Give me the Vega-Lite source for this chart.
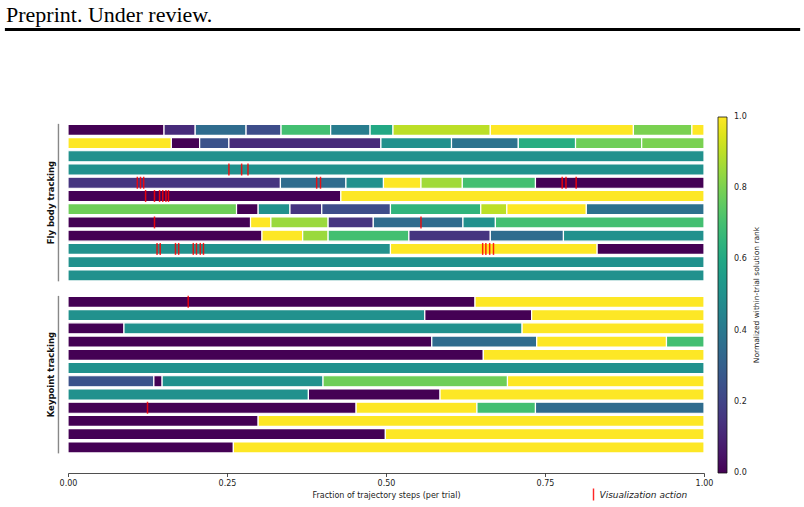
{
  "$schema": "https://vega.github.io/schema/vega-lite/v6.json",
  "width": 636,
  "height": 356,
  "autosize": {"type": "none"},
  "padding": {"left": 68, "top": 117, "right": 100, "bottom": 34},
  "background": "white",
  "config": {
    "view": {"stroke": null},
    "font": "DejaVu Sans",
    "axis": {"grid": false}
  },
  "title": {
    "text": "Preprint. Under review.",
    "anchor": "start",
    "frame": "group",
    "orient": "top",
    "offset": -15.5,
    "dx": -62,
    "font": "Liberation Serif",
    "fontSize": 22,
    "fontWeight": "normal",
    "color": "#000000",
    "baseline": "alphabetic"
  },
  "datasets": {
    "segments": [
      {"trial": "F1", "start": 0.000, "end": 0.151, "rank": 0.00},
      {"trial": "F1", "start": 0.151, "end": 0.200, "rank": 0.12},
      {"trial": "F1", "start": 0.200, "end": 0.280, "rank": 0.35},
      {"trial": "F1", "start": 0.280, "end": 0.335, "rank": 0.23},
      {"trial": "F1", "start": 0.335, "end": 0.413, "rank": 0.70},
      {"trial": "F1", "start": 0.413, "end": 0.475, "rank": 0.42},
      {"trial": "F1", "start": 0.475, "end": 0.511, "rank": 0.60},
      {"trial": "F1", "start": 0.511, "end": 0.664, "rank": 0.90},
      {"trial": "F1", "start": 0.664, "end": 0.889, "rank": 1.00},
      {"trial": "F1", "start": 0.889, "end": 0.981, "rank": 0.80},
      {"trial": "F1", "start": 0.981, "end": 1.000, "rank": 1.00},

      {"trial": "F2", "start": 0.000, "end": 0.1625, "rank": 1.00},
      {"trial": "F2", "start": 0.1625, "end": 0.207, "rank": 0.00},
      {"trial": "F2", "start": 0.207, "end": 0.253, "rank": 0.25},
      {"trial": "F2", "start": 0.253, "end": 0.492, "rank": 0.12},
      {"trial": "F2", "start": 0.492, "end": 0.603, "rank": 0.50},
      {"trial": "F2", "start": 0.603, "end": 0.708, "rank": 0.38},
      {"trial": "F2", "start": 0.708, "end": 0.798, "rank": 0.62},
      {"trial": "F2", "start": 0.798, "end": 0.902, "rank": 0.78},
      {"trial": "F2", "start": 0.902, "end": 1.000, "rank": 0.80},

      {"trial": "F3", "start": 0.000, "end": 1.000, "rank": 0.50},
      {"trial": "F4", "start": 0.000, "end": 1.000, "rank": 0.50},

      {"trial": "F5", "start": 0.000, "end": 0.334, "rank": 0.15},
      {"trial": "F5", "start": 0.334, "end": 0.437, "rank": 0.35},
      {"trial": "F5", "start": 0.437, "end": 0.496, "rank": 0.50},
      {"trial": "F5", "start": 0.496, "end": 0.555, "rank": 1.00},
      {"trial": "F5", "start": 0.555, "end": 0.620, "rank": 0.86},
      {"trial": "F5", "start": 0.620, "end": 0.735, "rank": 0.70},
      {"trial": "F5", "start": 0.735, "end": 1.000, "rank": 0.00},

      {"trial": "F6", "start": 0.000, "end": 0.429, "rank": 0.00},
      {"trial": "F6", "start": 0.429, "end": 1.000, "rank": 1.00},

      {"trial": "F7", "start": 0.000, "end": 0.265, "rank": 0.78},
      {"trial": "F7", "start": 0.265, "end": 0.299, "rank": 0.00},
      {"trial": "F7", "start": 0.299, "end": 0.349, "rank": 0.50},
      {"trial": "F7", "start": 0.349, "end": 0.399, "rank": 0.15},
      {"trial": "F7", "start": 0.399, "end": 0.507, "rank": 0.23},
      {"trial": "F7", "start": 0.507, "end": 0.649, "rank": 0.65},
      {"trial": "F7", "start": 0.649, "end": 0.690, "rank": 0.90},
      {"trial": "F7", "start": 0.690, "end": 0.815, "rank": 1.00},
      {"trial": "F7", "start": 0.815, "end": 1.000, "rank": 0.37},

      {"trial": "F8", "start": 0.000, "end": 0.287, "rank": 0.00},
      {"trial": "F8", "start": 0.287, "end": 0.319, "rank": 1.00},
      {"trial": "F8", "start": 0.319, "end": 0.409, "rank": 0.85},
      {"trial": "F8", "start": 0.409, "end": 0.480, "rank": 0.15},
      {"trial": "F8", "start": 0.480, "end": 0.621, "rank": 0.35},
      {"trial": "F8", "start": 0.621, "end": 0.672, "rank": 0.50},
      {"trial": "F8", "start": 0.672, "end": 1.000, "rank": 0.70},

      {"trial": "F9", "start": 0.000, "end": 0.305, "rank": 0.00},
      {"trial": "F9", "start": 0.305, "end": 0.369, "rank": 1.00},
      {"trial": "F9", "start": 0.369, "end": 0.409, "rank": 0.85},
      {"trial": "F9", "start": 0.409, "end": 0.536, "rank": 0.70},
      {"trial": "F9", "start": 0.536, "end": 0.664, "rank": 0.15},
      {"trial": "F9", "start": 0.664, "end": 0.779, "rank": 0.35},
      {"trial": "F9", "start": 0.779, "end": 1.000, "rank": 0.50},

      {"trial": "F10", "start": 0.000, "end": 0.507, "rank": 0.50},
      {"trial": "F10", "start": 0.507, "end": 0.832, "rank": 1.00},
      {"trial": "F10", "start": 0.832, "end": 1.000, "rank": 0.00},

      {"trial": "F11", "start": 0.000, "end": 1.000, "rank": 0.50},
      {"trial": "F12", "start": 0.000, "end": 1.000, "rank": 0.50},

      {"trial": "K1", "start": 0.000, "end": 0.640, "rank": 0.00},
      {"trial": "K1", "start": 0.640, "end": 1.000, "rank": 1.00},

      {"trial": "K2", "start": 0.000, "end": 0.561, "rank": 0.50},
      {"trial": "K2", "start": 0.561, "end": 0.729, "rank": 0.00},
      {"trial": "K2", "start": 0.729, "end": 1.000, "rank": 1.00},

      {"trial": "K3", "start": 0.000, "end": 0.088, "rank": 0.00},
      {"trial": "K3", "start": 0.088, "end": 0.714, "rank": 0.50},
      {"trial": "K3", "start": 0.714, "end": 1.000, "rank": 1.00},

      {"trial": "K4", "start": 0.000, "end": 0.572, "rank": 0.00},
      {"trial": "K4", "start": 0.572, "end": 0.737, "rank": 0.35},
      {"trial": "K4", "start": 0.737, "end": 0.941, "rank": 1.00},
      {"trial": "K4", "start": 0.941, "end": 1.000, "rank": 0.70},

      {"trial": "K5", "start": 0.000, "end": 0.653, "rank": 0.00},
      {"trial": "K5", "start": 0.653, "end": 1.000, "rank": 1.00},

      {"trial": "K6", "start": 0.000, "end": 1.000, "rank": 0.50},

      {"trial": "K7", "start": 0.000, "end": 0.135, "rank": 0.25},
      {"trial": "K7", "start": 0.135, "end": 0.148, "rank": 0.00},
      {"trial": "K7", "start": 0.148, "end": 0.401, "rank": 0.50},
      {"trial": "K7", "start": 0.401, "end": 0.691, "rank": 0.78},
      {"trial": "K7", "start": 0.691, "end": 1.000, "rank": 1.00},

      {"trial": "K8", "start": 0.000, "end": 0.378, "rank": 0.50},
      {"trial": "K8", "start": 0.378, "end": 0.585, "rank": 0.00},
      {"trial": "K8", "start": 0.585, "end": 1.000, "rank": 1.00},

      {"trial": "K9", "start": 0.000, "end": 0.453, "rank": 0.00},
      {"trial": "K9", "start": 0.453, "end": 0.643, "rank": 1.00},
      {"trial": "K9", "start": 0.643, "end": 0.735, "rank": 0.70},
      {"trial": "K9", "start": 0.735, "end": 1.000, "rank": 0.35},

      {"trial": "K10", "start": 0.000, "end": 0.299, "rank": 0.00},
      {"trial": "K10", "start": 0.299, "end": 1.000, "rank": 1.00},

      {"trial": "K11", "start": 0.000, "end": 0.499, "rank": 0.00},
      {"trial": "K11", "start": 0.499, "end": 1.000, "rank": 1.00},

      {"trial": "K12", "start": 0.000, "end": 0.260, "rank": 0.00},
      {"trial": "K12", "start": 0.260, "end": 1.000, "rank": 1.00}
    ],
    "actions": [
      {"trial": "F4", "step": 0.253}, {"trial": "F4", "step": 0.273}, {"trial": "F4", "step": 0.283},
      {"trial": "F5", "step": 0.109}, {"trial": "F5", "step": 0.114}, {"trial": "F5", "step": 0.119},
      {"trial": "F5", "step": 0.391}, {"trial": "F5", "step": 0.397},
      {"trial": "F5", "step": 0.777}, {"trial": "F5", "step": 0.783}, {"trial": "F5", "step": 0.799},
      {"trial": "F6", "step": 0.122}, {"trial": "F6", "step": 0.136}, {"trial": "F6", "step": 0.144},
      {"trial": "F6", "step": 0.149}, {"trial": "F6", "step": 0.154}, {"trial": "F6", "step": 0.158},
      {"trial": "F8", "step": 0.136}, {"trial": "F8", "step": 0.555},
      {"trial": "F10", "step": 0.140}, {"trial": "F10", "step": 0.145}, {"trial": "F10", "step": 0.169},
      {"trial": "F10", "step": 0.174}, {"trial": "F10", "step": 0.197}, {"trial": "F10", "step": 0.202},
      {"trial": "F10", "step": 0.208}, {"trial": "F10", "step": 0.213},
      {"trial": "F10", "step": 0.652}, {"trial": "F10", "step": 0.657}, {"trial": "F10", "step": 0.663},
      {"trial": "F10", "step": 0.669},
      {"trial": "K1", "step": 0.189},
      {"trial": "K9", "step": 0.125}
    ]
  },
  "resolve": {"scale": {"y": "independent"}},
  "layer": [
    {
      "layer": [
        {
          "data": {"name": "segments"},
          "mark": {"type": "bar", "stroke": "white", "strokeWidth": 1.2, "height": {"band": 0.925}},
          "encoding": {
            "x": {
              "field": "start", "type": "quantitative",
              "title": "Fraction of trajectory steps (per trial)",
              "scale": {"domain": [0, 1], "nice": false, "zero": false},
              "axis": {
                "values": [0, 0.25, 0.5, 0.75, 1],
                "format": ".2f",
                "labelFlush": false,
                "tickSize": 3.5,
                "tickWidth": 0.8,
                "domainWidth": 0.8,
                "domainColor": "#222222",
                "tickColor": "#222222",
                "labelColor": "#222222",
                "titleColor": "#222222",
                "labelFontSize": 8,
                "labelPadding": 2.5,
                "titleFontSize": 8,
                "titleFontWeight": "normal",
                "titlePadding": 4.5
              }
            },
            "x2": {"field": "end"},
            "y": {
              "field": "trial", "type": "nominal", "title": null,
              "scale": {
                "domain": ["F1", "F2", "F3", "F4", "F5", "F6", "F7", "F8", "F9", "F10", "F11", "F12", "gap",
                           "K1", "K2", "K3", "K4", "K5", "K6", "K7", "K8", "K9", "K10", "K11", "K12"],
                "paddingInner": 0.1,
                "paddingOuter": 1.035,
                "align": 0.259
              },
              "axis": {
                "values": ["F6", "K6"],
                "labelExpr": "datum.value == 'F6' ? 'Fly body tracking' : 'Keypoint tracking'",
                "labelAngle": 270,
                "labelAlign": "center",
                "labelBaseline": "bottom",
                "labelFontWeight": "bold",
                "labelFontSize": 8.5,
                "labelColor": "#111111",
                "labelOffset": 6.6,
                "labelPadding": 13,
                "labelLimit": 300,
                "ticks": false,
                "tickSize": 0,
                "domain": false
              }
            },
            "fill": {
              "field": "rank", "type": "quantitative",
              "scale": {"scheme": "viridis", "domain": [0, 1]},
              "legend": {
                "orient": "none",
                "legendX": 650,
                "legendY": 0,
                "direction": "vertical",
                "padding": 0,
                "gradientLength": 356,
                "gradientThickness": 9,
                "gradientStrokeColor": "#111111",
                "gradientStrokeWidth": 0.8,
                "values": [0, 0.2, 0.4, 0.6, 0.8, 1],
                "format": ".1f",
                "labelOverlap": false,
                "labelFontSize": 8,
                "labelColor": "#222222",
                "labelOffset": 7,
                "title": "Normalized within-trial solution rank",
                "titleOrient": "right",
                "titleAnchor": "middle",
                "titleFontSize": 7.5,
                "titleFontWeight": "normal",
                "titleColor": "#222222",
                "titlePadding": 6,
                "titleLimit": 400,
                "encode": {
                  "title": {"update": {"angle": {"value": 270}, "baseline": {"value": "top"}, "align": {"value": "center"}}},
                  "labels": {"update": {"baseline": {"value": "middle"}}}
                }
              }
            }
          }
        },
        {
          "data": {"name": "actions"},
          "mark": {"type": "tick", "orient": "vertical", "thickness": 1.5, "size": 12, "opacity": 0.85},
          "encoding": {
            "x": {"field": "step", "type": "quantitative", "title": "Fraction of trajectory steps (per trial)"},
            "y": {"field": "trial", "type": "nominal", "title": null},
            "color": {
              "datum": "Visualization action",
              "type": "nominal",
              "scale": {"range": ["#ff0000"]},
              "legend": {
                "orient": "none",
                "legendX": 519.5,
                "legendY": 371.5,
                "padding": 0,
                "title": null,
                "symbolType": "M-0.12,-1H0.12V1H-0.12Z",
                "symbolSize": 144,
                "symbolStrokeWidth": 0,
                "labelFontStyle": "italic",
                "labelFontSize": 9,
                "labelColor": "#222222",
                "labelOffset": 0
              }
            }
          }
        },
        {
          "data": {"values": [{}]},
          "mark": {"type": "rule", "color": "#888888", "strokeWidth": 1.4},
          "encoding": {
            "x": {"datum": -0.015, "type": "quantitative"},
            "y": {"datum": "F1", "type": "nominal", "bandPosition": 0},
            "y2": {"datum": "F12", "bandPosition": 1}
          }
        },
        {
          "data": {"values": [{}]},
          "mark": {"type": "rule", "color": "#888888", "strokeWidth": 1.4},
          "encoding": {
            "x": {"datum": -0.015, "type": "quantitative"},
            "y": {"datum": "K1", "type": "nominal", "bandPosition": 0},
            "y2": {"datum": "K12", "bandPosition": 1}
          }
        }
      ]
    },
    {
      "data": {"values": [{}]},
      "mark": {"type": "rule", "color": "#000000", "strokeWidth": 2.8},
      "encoding": {
        "x": {"datum": -0.0992, "type": "quantitative"},
        "x2": {"datum": 1.1512},
        "y": {"datum": 1.2458, "type": "quantitative", "scale": {"domain": [0, 1], "nice": false, "zero": false}, "axis": null}
      }
    }
  ]
}
